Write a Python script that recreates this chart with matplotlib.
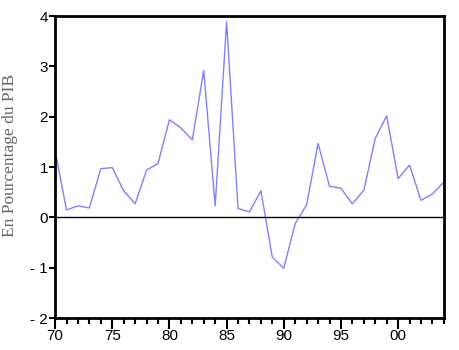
import numpy as np
import matplotlib
matplotlib.use("Agg")
import matplotlib.pyplot as plt
from matplotlib.ticker import MultipleLocator, FixedLocator

years = list(range(1970, 2005))
values = [1.33, 0.15, 0.23, 0.19, 0.97, 0.99, 0.53, 0.27, 0.94, 1.07,
          1.94, 1.78, 1.54, 2.92, 0.23, 3.89, 0.18, 0.11, 0.53, -0.79,
          -1.01, -0.12, 0.25, 1.47, 0.62, 0.58, 0.27, 0.54, 1.57, 2.02,
          0.77, 1.04, 0.34, 0.47, 0.70]
xtick_years = [1970, 1975, 1980, 1985, 1990, 1995, 2000]
xtick_labels = ["70", "75", "80", "85", "90", "95", "00"]
ytick_values = [-2, -1, 0, 1, 2, 3, 4]
ytick_labels = ["- 2", "- 1", "0", "1", "2", "3", "4"]

fig = plt.figure(figsize=(4.59, 3.5), dpi=100)
ax = fig.add_axes([0.12, 0.091, 0.847, 0.863])

ax.plot(years, values, color="#8080ff", lw=1.0)
ax.axhline(0, color="black", lw=1.0)

ax.set_xlim(1970, 2004)
ax.set_ylim(-2, 4)

ax.xaxis.set_major_locator(FixedLocator(xtick_years))
ax.set_xticklabels(xtick_labels, fontsize=11, family="Liberation Sans")
ax.xaxis.set_minor_locator(MultipleLocator(1))
ax.yaxis.set_major_locator(FixedLocator(ytick_values))
ax.set_yticklabels(ytick_labels, fontsize=11, family="Liberation Sans")

ax.tick_params(axis="x", which="major", direction="out", length=8, width=1.5, pad=0)
ax.tick_params(axis="x", which="minor", direction="out", length=4, width=1.5)
ax.tick_params(axis="y", which="major", direction="out", length=4, width=1.5, pad=1)

for s in ax.spines.values():
    s.set_linewidth(2)

ax.set_ylabel("En Pourcentage du PIB", family="Liberation Serif", fontsize=12.5,
              color="#666666")
ax.yaxis.set_label_coords(-0.095, 0.54)

fig.savefig("out.png", dpi=100)
